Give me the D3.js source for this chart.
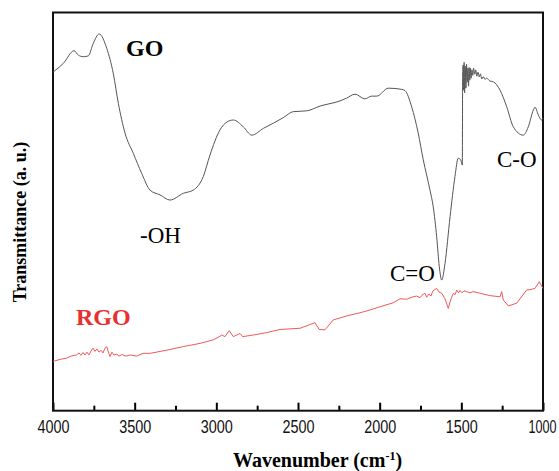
<!DOCTYPE html>
<html>
<head>
<meta charset="utf-8">
<script src="https://cdn.jsdelivr.net/npm/d3@7"></script>
<style>
  body { margin: 0; background: #fff; }
  svg { display: block; }
</style>
</head>
<body>
<div id="chart"></div>
<script>
// GO spectrum (wavenumber, transmittance a.u.)
var goWave = [4000, 3988, 3937, 3871, 3845, 3814, 3784, 3753, 3717, 3671, 3631, 3600, 3559, 3508, 3457, 3406,
  3345, 3284, 3202, 3141, 3080, 3039, 2978, 2935, 2896, 2835, 2783, 2712, 2651, 2590, 2529, 2447, 2365,
  2243, 2202, 2151, 2090, 2049, 2018, 1947, 1865, 1845, 1804, 1764, 1733, 1692, 1672, 1651, 1635, 1620,
  1600, 1569, 1539, 1519, 1504, 1494, 1492, 1489, 1486, 1483, 1480, 1476, 1472, 1468, 1464, 1460, 1456,
  1452, 1448, 1444, 1440, 1435, 1430, 1425, 1418, 1412, 1405, 1398, 1390, 1383, 1375, 1366, 1355, 1345,
  1325, 1304, 1263, 1222, 1182, 1121, 1090, 1059, 1049, 1029, 1008, 1000];
var goT = [85.0, 85.4, 87.2, 90.4, 89.3, 88.9, 89.1, 92.3, 94.6, 91.0, 84.7, 77.2, 69.7, 64.6, 59.6, 55.4,
  54.2, 52.9, 54.6, 55.4, 58.8, 64.2, 70.5, 72.5, 73.0, 71.3, 69.2, 70.9, 72.2, 73.6, 75.1, 75.3, 76.5,
  77.8, 78.5, 79.5, 78.3, 79.0, 79.0, 81.0, 80.7, 80.4, 76.3, 69.7, 63.0, 55.4, 51.2, 43.7, 36.2, 32.8,
  37.0, 48.7, 58.8, 63.4, 63.0, 61.7, 83.9, 86.8, 80.5, 87.5, 79.8, 86.5, 81.0, 87.0, 82.5, 86.0, 81.5,
  86.2, 83.0, 86.0, 83.5, 85.6, 84.2, 86.0, 84.5, 85.6, 84.0, 85.0, 83.8, 84.6, 83.3, 83.9, 83.2, 83.5,
  82.8, 82.6, 80.5, 76.3, 71.3, 69.2, 71.3, 75.5, 76.2, 74.3, 73.0, 73.5];

// RGO spectrum
var rgoWave = [4000, 3988, 3957, 3916, 3890, 3855, 3841, 3829, 3816, 3804, 3792, 3780, 3767, 3755, 3743,
  3731, 3718, 3706, 3694, 3682, 3671, 3663, 3651, 3639, 3627, 3610, 3596, 3578, 3553, 3529, 3488, 3449,
  3406, 3304, 3202, 3100, 3019, 2990, 2967, 2947, 2921, 2896, 2855, 2839, 2774, 2692, 2610, 2488, 2396,
  2370, 2335, 2284, 2202, 2120, 2059, 1998, 1917, 1876, 1835, 1796, 1774, 1753, 1733, 1723, 1712, 1698,
  1686, 1674, 1651, 1637, 1620, 1600, 1580, 1563, 1549, 1539, 1528, 1517, 1508, 1496, 1484, 1467, 1447,
  1429, 1386, 1325, 1263, 1253, 1243, 1212, 1161, 1100, 1080, 1049, 1023, 1000];
var rgoT = [12.4, 12.5, 12.9, 13.2, 13.7, 14.0, 14.5, 13.9, 14.6, 14.0, 14.7, 14.0, 15.0, 15.7, 14.9,
  15.5, 14.7, 15.2, 14.5, 15.7, 16.1, 15.0, 13.6, 14.7, 14.0, 14.2, 13.7, 14.1, 13.7, 14.0, 13.7, 14.4,
  14.4, 15.2, 16.1, 16.9, 17.8, 18.4, 19.0, 18.6, 20.1, 18.6, 19.4, 18.6, 19.0, 19.6, 20.4, 20.7, 22.1,
  20.4, 20.3, 22.8, 23.8, 24.6, 25.3, 26.1, 27.1, 28.1, 28.0, 28.6, 28.8, 28.4, 29.3, 29.5, 28.5, 29.3,
  28.8, 30.1, 30.7, 29.8, 29.5, 28.1, 25.7, 28.1, 29.5, 29.1, 30.3, 29.6, 30.2, 29.6, 30.1, 29.9, 29.6,
  29.9, 29.5, 28.9, 28.6, 29.9, 27.8, 26.3, 27.0, 30.3, 30.4, 30.7, 32.4, 30.7];

var majorTicks = [4000, 3500, 3000, 2500, 2000, 1500, 1000];
var minorTicks = [3750, 3250, 2750, 2250, 1750, 1250];

var width = 559, height = 471;
var margin = {top: 12.5, right: 16, bottom: 60.3, left: 53};

var svg = d3.select("#chart").append("svg")
    .attr("width", width)
    .attr("height", height);

var x = d3.scaleLinear()
    .domain([4000, 1000])
    .range([margin.left, width - margin.right]);

var y = d3.scaleLinear()
    .domain([0, 100])
    .range([height - margin.bottom, margin.top]);

var plotH = y(0) - y(100);

// minor ticks
var minorAxis = d3.axisBottom(x).tickValues(minorTicks).tickSizeInner(-5).tickSizeOuter(0).tickFormat("");
svg.append("g")
    .attr("transform", "translate(0," + y(0) + ")")
    .call(minorAxis)
    .call(function(g){
      g.select(".domain").remove();
      g.selectAll(".tick line").attr("stroke", "#000").attr("stroke-width", 2);
    });

var xAxis = d3.axisBottom(x).tickValues(majorTicks).tickSizeInner(-8).tickSizeOuter(0)
    .tickFormat(d3.format("d"));
svg.append("g")
    .attr("transform", "translate(0," + y(0) + ")")
    .call(xAxis)
    .call(function(g){
      g.select(".domain").remove();
      g.selectAll(".tick line").attr("stroke", "#000").attr("stroke-width", 2);
      // labels are tall and narrow in the original
      g.selectAll(".tick text")
        .attr("fill", "#111")
        .attr("y", 0).attr("dy", 0)
        .style("font-family", "'Liberation Sans', Arial, sans-serif")
        .style("font-size", function(d){ return d === 1000 ? "12.6px" : "14.4px"; })
        .attr("transform", function(d){
          return d === 1000 ? "translate(-1,22.3) scale(1,1.4)" : "translate(0,22.3) scale(1,1.23)";
        });
    });

// frame
svg.append("rect")
    .attr("x", x(4000))
    .attr("y", y(100))
    .attr("width", x(1000) - x(4000))
    .attr("height", plotH)
    .attr("fill", "none")
    .attr("stroke", "#111")
    .attr("stroke-width", 2);

var lineGO = d3.line()
    .x(function(d){ return x(d[0]); })
    .y(function(d){ return y(d[1]); })
    .curve(d3.curveMonotoneX);

var lineRGO = d3.line()
    .x(function(d){ return x(d[0]); })
    .y(function(d){ return y(d[1]); });

svg.append("path")
    .datum(d3.zip(goWave, goT))
    .attr("fill", "none")
    .attr("stroke", "#555")
    .attr("stroke-width", 1)
    .attr("d", lineGO);

svg.append("path")
    .datum(d3.zip(rgoWave, rgoT))
    .attr("fill", "none")
    .attr("stroke", "#f05a5a")
    .attr("stroke-width", 1)
    .attr("d", lineRGO);

var serif = "'Liberation Serif', 'Times New Roman', serif";

// labels
svg.append("text").attr("x", 126).attr("y", 56)
    .style("font-family", serif).style("font-weight", "bold").style("font-size", "24px")
    .attr("fill", "#000").text("GO");

svg.append("text").attr("x", 76).attr("y", 325)
    .style("font-family", serif).style("font-weight", "bold").style("font-size", "24px")
    .attr("fill", "#e8302f").text("RGO");

svg.append("text").attr("x", 140).attr("y", 243)
    .style("font-family", serif).style("font-size", "23px")
    .attr("fill", "#000").text("-OH");

svg.append("text").attr("x", 390).attr("y", 280.5)
    .style("font-family", serif).style("font-size", "23px")
    .attr("fill", "#000").text("C=O");

svg.append("text").attr("x", 497).attr("y", 166.5)
    .style("font-family", serif).style("font-size", "23px")
    .attr("fill", "#000").text("C-O");

// axis titles
var xt = svg.append("text").attr("x", 233).attr("y", 467)
    .style("font-family", serif).style("font-weight", "bold").style("font-size", "20px")
    .attr("fill", "#000");
xt.append("tspan").text("Wavenumber (cm");
xt.append("tspan").attr("dy", -7).style("font-size", "12px").text("-1");
xt.append("tspan").attr("dy", 7).text(")");

svg.append("text")
    .attr("transform", "translate(25.5," + 222 + ") rotate(-90)")
    .attr("text-anchor", "middle")
    .style("font-family", serif).style("font-weight", "bold").style("font-size", "18px")
    .attr("fill", "#000")
    .text("Transmittance (a. u.)");
</script>
</body>
</html>
